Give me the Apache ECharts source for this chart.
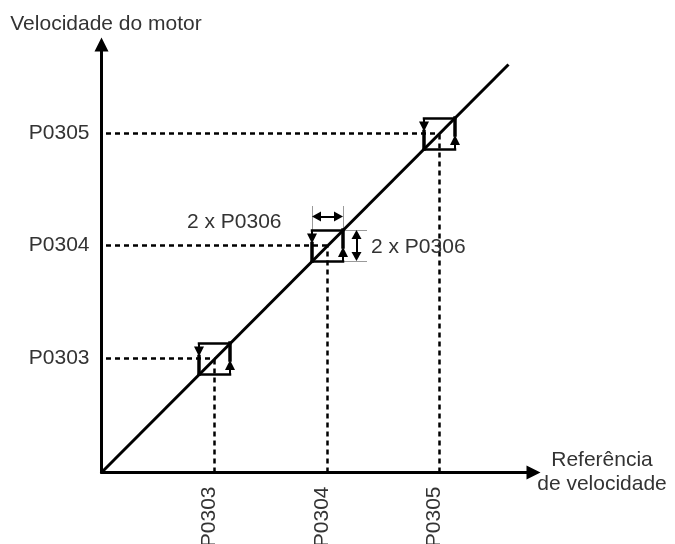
<!DOCTYPE html>
<html><head><meta charset="utf-8">
<script src="https://cdn.jsdelivr.net/npm/echarts@6/dist/echarts.min.js"></script>
<style>html,body{margin:0;padding:0;background:#fff}#c{width:675px;height:544px}</style>
</head><body><div id="c"></div>
<script>
// ---- data ----
const tickNames = ['P0303', 'P0304', 'P0305'];
const refValues = [113, 226, 338];      // reference (x) of each set point
const speedValues = [114, 227, 339];    // motor speed (y) of each set point
const hystValue = 15.5;                 // P0306 half hysteresis
const lineEnd = [407, 408];             // end of the characteristic line
const dimLabel = '2 x P0306';
const yAxisTitle = 'Velocidade do motor';
const xAxisTitle = 'Referência\nde velocidade';

// ---- build ----
const FONT = 'Liberation Sans, Arial, sans-serif';
const TXT = '#333333';
const h = hystValue;
const AL = 10;
const boxes = refValues.map((x, i) => [x, speedValues[i]]);
const edgeSegs = [], arrowSegs = [], thickSegs = [], guideSegs = [];
boxes.forEach(([cx, cy]) => {
  edgeSegs.push({coords: [[cx - h, cy + h], [cx + h, cy + h]]});
  edgeSegs.push({coords: [[cx - h, cy - h], [cx + h, cy - h]]});
  arrowSegs.push({coords: [[cx - h, cy + h], [cx - h, cy + 2 + AL / 2]]});
  arrowSegs.push({coords: [[cx + h, cy - h], [cx + h, cy - 1.5 - AL / 2]]});
  thickSegs.push({coords: [[cx - h, cy + 2], [cx - h, cy - h]]});
  thickSegs.push({coords: [[cx + h, cy + h], [cx + h, cy - 1.5]]});
  guideSegs.push({coords: [[4.5, cy], [cx, cy]]});
  guideSegs.push({coords: [[cx, 0], [cx, cy]]});
});
const [mx, my] = boxes[1];
const dimArrows = [
  {coords: [[mx - h + 4.5, my + 29], [mx + h - 4.5, my + 29]]},
  {coords: [[mx + 29, my - h + 4.5], [mx + 29, my + h - 4.5]]}
];
const extLines = [
  {coords: [[mx - h, my + h], [mx - h, my + 39.5]]},
  {coords: [[mx + h, my + h], [mx + h, my + 39.5]]},
  {coords: [[mx + h, my + h], [mx + 39.5, my + h]]},
  {coords: [[mx + h, my - h], [mx + 39.5, my - h]]}
];
const textPts = [
  {name: dimLabel, value: [mx - 45.5, my + 23.5], label: {position: 'left'}},
  {name: dimLabel, value: [mx + 43, my - 1.5], label: {position: 'right'}}
];

function linesSeries(data, style, extra) {
  return Object.assign({
    type: 'lines', coordinateSystem: 'cartesian2d', silent: true,
    data: data, symbol: ['none', 'none'],
    lineStyle: Object.assign({color: '#000', opacity: 1, width: 2}, style)
  }, extra || {});
}

const chart = echarts.init(document.getElementById('c'));
chart.setOption({
  animation: false,
  backgroundColor: '#fff',
  grid: {left: 101.5, right: 141.5, top: 44.5, bottom: 71.5, outerBoundsMode: 'none', containLabel: false},
  xAxis: {
    type: 'value', min: 0, max: 432,
    name: xAxisTitle, nameLocation: 'end', nameGap: 68.5, nameMoveOverlap: false,
    nameTextStyle: {fontFamily: FONT, fontSize: 21, color: TXT, align: 'center', verticalAlign: 'middle', lineHeight: 24, padding: [12, 0, 0, 0]},
    axisLine: {show: true, lineStyle: {color: '#000', width: 3}, symbol: ['none', 'triangle'], symbolSize: [14, 14]},
    axisTick: {show: false},
    splitLine: {show: false},
    axisLabel: {
      customValues: refValues, rotate: 90, margin: 14,
      fontFamily: FONT, fontSize: 21, color: TXT, verticalAlign: 'bottom', lineHeight: 11,
      formatter: v => tickNames[refValues.indexOf(v)]
    }
  },
  yAxis: {
    type: 'value', min: 0, max: 428,
    name: yAxisTitle, nameLocation: 'end', nameGap: 10, nameMoveOverlap: false,
    nameTextStyle: {fontFamily: FONT, fontSize: 21, color: TXT, align: 'center', padding: [0, 0, 0, 9]},
    axisLine: {show: true, lineStyle: {color: '#000', width: 3}, symbol: ['none', 'triangle'], symbolSize: [14, 14]},
    axisTick: {show: false},
    splitLine: {show: false},
    axisLabel: {
      customValues: speedValues, margin: 12,
      fontFamily: FONT, fontSize: 21, color: TXT, padding: [0, 0, 8, 0],
      formatter: v => tickNames[speedValues.indexOf(v)]
    }
  },
  series: [
    linesSeries(guideSegs, {type: [5, 4], width: 2.5}, {z: 1}),
    {
      type: 'line', data: [[0, 0], lineEnd], showSymbol: false, silent: true, z: 3,
      lineStyle: {color: '#000', width: 3}
    },
    linesSeries(extLines, {color: '#9a9a9a', width: 1}, {z: 2}),
    linesSeries(edgeSegs, {width: 2.5, cap: 'square'}, {z: 4}),
    linesSeries(thickSegs, {width: 3.5, cap: 'square'}, {z: 4}),
    linesSeries(arrowSegs, {width: 2}, {z: 4, symbol: ['none', 'triangle'], symbolSize: [[10, AL], [10, AL]]}),
    linesSeries(dimArrows, {width: 2}, {z: 4, symbol: ['triangle', 'triangle'], symbolSize: [[10, 9], [10, 9]]}),
    {
      type: 'scatter', data: textPts, symbolSize: 1, silent: true, z: 5,
      itemStyle: {color: 'rgba(0,0,0,0)', opacity: 1},
      label: {show: true, formatter: '{b}', distance: 0, fontFamily: FONT, fontSize: 21, color: TXT, opacity: 1}
    }
  ]
});
</script>
</body></html>
